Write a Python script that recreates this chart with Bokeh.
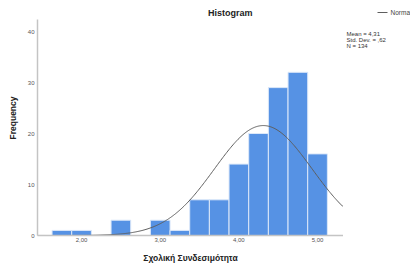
import numpy as np
from bokeh.plotting import figure
from bokeh.layouts import row
from bokeh.models import FixedTicker, Range1d
from bokeh.core.properties import value
from bokeh.embed import file_html
from bokeh.resources import INLINE

# ---- data ----
bin_centers = [1.75, 2.00, 2.25, 2.50, 2.75, 3.00, 3.25, 3.50, 3.75, 4.00, 4.25, 4.50, 4.75, 5.00]
counts = [1, 1, 0, 3, 0, 3, 1, 7, 7, 14, 20, 29, 32, 16]
bin_width = 0.25
mean_val = 4.31
std_val = 0.62
n_val = 134
x_ticks = [2, 3, 4, 5]
x_tick_labels = ["2,00", "3,00", "4,00", "5,00"]
y_ticks = [0, 10, 20, 30, 40]
stats_lines = ["Mean = 4,31", "Std. Dev. = ,62", "N = 134"]
legend_label = "Normal"
title_text = "Histogram"

FONT = "Liberation Sans"

p = figure(width=343, height=265, output_backend="svg", toolbar_location=None, title=None,
           x_range=Range1d(1.44, 5.33), y_range=Range1d(0, 46.08),
           min_border_left=37, min_border_right=0, min_border_top=0, min_border_bottom=30)
p.outline_line_color = None
p.xgrid.visible = False
p.ygrid.visible = False

p.vbar(x=bin_centers, top=counts, width=bin_width, bottom=0,
       fill_color="#5692e4", line_color="#dce8f9", line_width=1)

xs = np.linspace(1.44, 5.33, 300)
ys = n_val * bin_width / (std_val * np.sqrt(2 * np.pi)) * np.exp(-0.5 * ((xs - mean_val) / std_val) ** 2)
p.line(xs, ys, line_color="#5e5e5e", line_width=1)

# chart title drawn inside the (extended) frame
p.text([3.89], [43.7], text=[title_text], text_font=value(FONT), text_font_size="9px",
       text_font_style="bold", text_color="#222222", text_align="center", text_baseline="middle")

for ax in (p.xaxis[0], p.yaxis[0]):
    ax.axis_line_color = "#c4c4c4"
    ax.axis_line_width = 1.5
    ax.major_tick_line_color = None
    ax.minor_tick_line_color = None
    ax.major_tick_out = 0
    ax.major_tick_in = 0
    ax.minor_tick_out = 0
    ax.minor_tick_in = 0
    ax.major_label_text_font = FONT
    ax.major_label_text_font_size = "6px"
    ax.major_label_text_color = "#555555"
    ax.axis_label_text_font = FONT
    ax.axis_label_text_font_size = "8.5px"
    ax.axis_label_text_font_style = "bold"
    ax.axis_label_text_color = "#222222"

p.xaxis.ticker = FixedTicker(ticks=x_ticks)
p.xaxis.major_label_overrides = {t: l for t, l in zip(x_ticks, x_tick_labels)}
p.xaxis.major_label_standoff = 2
p.xaxis.axis_label = "Σχολική Συνδεσιμότητα"
p.xaxis.axis_label_standoff = 8
p.yaxis.ticker = FixedTicker(ticks=y_ticks)
p.yaxis.bounds = (0, 42.3)
p.yaxis.major_label_standoff = 3
p.yaxis.axis_label = "Frequency"
p.yaxis.axis_label_standoff = 7

# side panel with legend and statistics (pixel coordinates, frame aligned with main frame)
s = figure(width=67, height=265, output_backend="svg", toolbar_location=None, title=None,
           x_range=Range1d(0, 67), y_range=Range1d(235, 0),
           x_axis_type=None, y_axis_type=None,
           min_border_left=0, min_border_right=0, min_border_top=0, min_border_bottom=30)
s.outline_line_color = None
s.xgrid.visible = False
s.ygrid.visible = False

s.line([34, 44], [12, 12], line_color="#5e5e5e", line_width=1)
s.text([47], [12], text=[legend_label], text_font=value(FONT), text_font_size="6.5px",
       text_color="#444444", text_baseline="middle", text_align="left")
s.text([3, 3, 3], [33, 39, 45], text=stats_lines, text_font=value(FONT),
       text_font_size="6px", text_color="#333333", text_baseline="middle", text_align="left")

layout = row(p, s, spacing=0)
open("out.html", "w").write(file_html(layout, INLINE))
